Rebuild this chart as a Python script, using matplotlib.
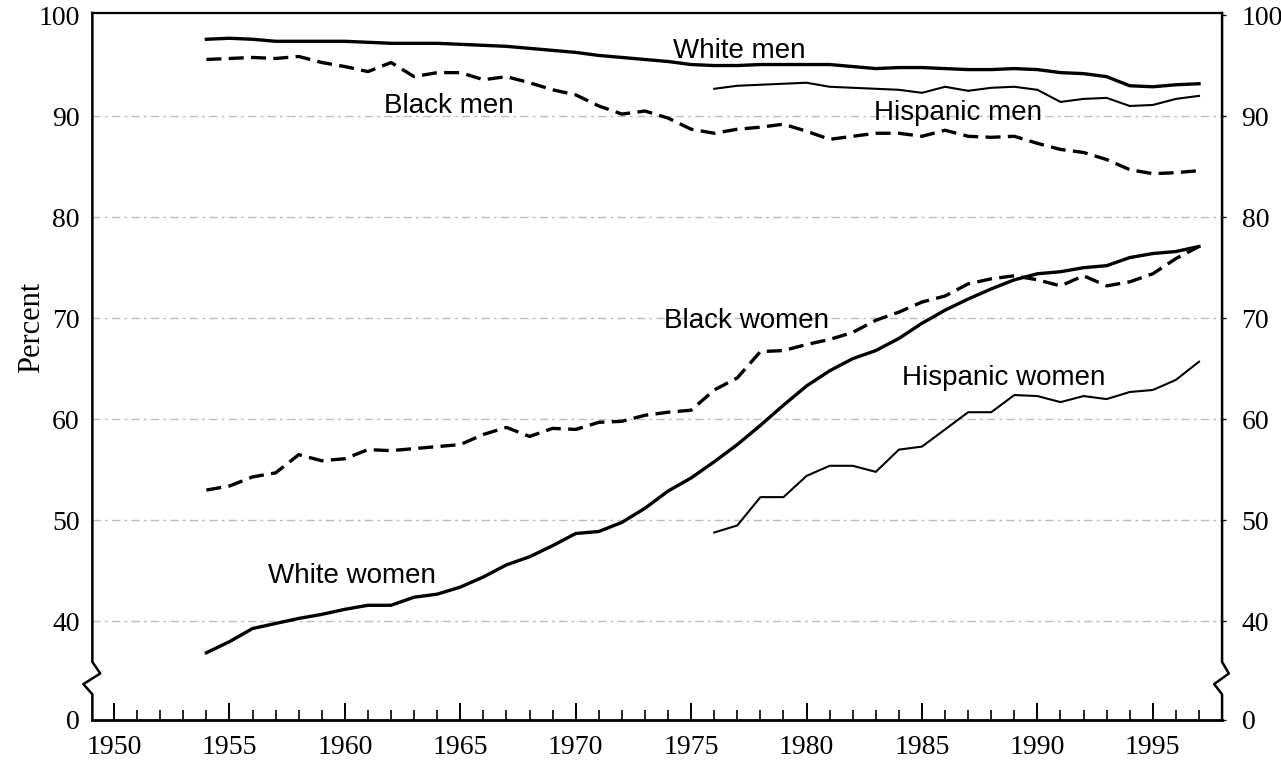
import numpy as np
import matplotlib.pyplot as plt

# labor force participation, percent
years = np.arange(1954, 1998)
hisp_years = np.arange(1976, 1998)

white_men = [97.6, 97.7, 97.6, 97.4, 97.4, 97.4, 97.4, 97.3, 97.2, 97.2, 97.2, 97.1,
             97.0, 96.9, 96.7, 96.5, 96.3, 96.0, 95.8, 95.6, 95.4, 95.1, 95.0, 95.0,
             95.1, 95.1, 95.1, 95.1, 94.9, 94.7, 94.8, 94.8, 94.7, 94.6, 94.6, 94.7,
             94.6, 94.3, 94.2, 93.9, 93.0, 92.9, 93.1, 93.2]
black_men = [95.6, 95.7, 95.8, 95.7, 95.9, 95.3, 94.9, 94.4, 95.3, 93.9, 94.3, 94.3,
             93.6, 93.9, 93.3, 92.6, 92.1, 91.0, 90.2, 90.5, 89.8, 88.7, 88.3, 88.7,
             88.9, 89.2, 88.5, 87.7, 88.0, 88.3, 88.3, 88.0, 88.6, 88.0, 87.9, 88.0,
             87.3, 86.7, 86.4, 85.7, 84.7, 84.3, 84.4, 84.6]
hispanic_men = [92.7, 93.0, 93.1, 93.2, 93.3, 92.9, 92.8, 92.7, 92.6, 92.3, 92.9,
                92.5, 92.8, 92.9, 92.6, 91.4, 91.7, 91.8, 91.0, 91.1, 91.7, 92.0]
white_women = [36.9, 38.0, 39.3, 39.8, 40.3, 40.7, 41.2, 41.6, 41.6, 42.4, 42.7, 43.4,
               44.4, 45.6, 46.4, 47.5, 48.7, 48.9, 49.8, 51.2, 52.9, 54.2, 55.8, 57.5,
               59.4, 61.4, 63.3, 64.8, 66.0, 66.8, 68.0, 69.5, 70.8, 71.9, 72.9, 73.8,
               74.4, 74.6, 75.0, 75.2, 76.0, 76.4, 76.6, 77.1]
black_women = [53.0, 53.4, 54.3, 54.7, 56.5, 55.9, 56.1, 57.0, 56.9, 57.1, 57.3, 57.5,
               58.5, 59.2, 58.3, 59.1, 59.0, 59.7, 59.8, 60.4, 60.7, 60.9, 62.9, 64.1,
               66.7, 66.8, 67.4, 67.9, 68.6, 69.8, 70.6, 71.6, 72.2, 73.4, 73.9, 74.2,
               73.8, 73.2, 74.2, 73.2, 73.6, 74.4, 75.9, 77.1]
hispanic_women = [48.8, 49.5, 52.3, 52.3, 54.4, 55.4, 55.4, 54.8, 57.0, 57.3, 59.0,
                  60.7, 60.7, 62.4, 62.3, 61.7, 62.3, 62.0, 62.7, 62.9, 63.9, 65.7]

grid_vals = [40, 50, 60, 70, 80, 90]
ytick_vals = [30.25, 40, 50, 60, 70, 80, 90, 100]
ytick_labels = ['0', '40', '50', '60', '70', '80', '90', '100']

YMIN, YMAX = 30.25, 100.2
serif = 'Liberation Serif'
sans = 'Liberation Sans'

fig = plt.figure(figsize=(12.81, 7.64), dpi=100)
ax = fig.add_axes([0.0721, 0.0576, 0.8819, 0.9254])
ax.set_xlim(1949.06, 1998.0)
ax.set_ylim(YMIN, YMAX)

# faint broken grid, like the scanned original
for g in grid_vals:
    ax.axhline(g, color='#bdbdbd', lw=1.0, ls=(0, (6, 3, 2, 3)), zorder=1)

thick = 2.4
dash = (0, (4.5, 2.2))
ax.plot(years, white_men, color='black', lw=thick, zorder=3)
ax.plot(years, black_men, color='black', lw=thick, ls=dash, zorder=3)
ax.plot(hisp_years, hispanic_men, color='black', lw=1.5, zorder=3)
ax.plot(years, white_women, color='black', lw=thick, zorder=3)
ax.plot(years, black_women, color='black', lw=thick, ls=dash, zorder=3)
ax.plot(hisp_years, hispanic_women, color='black', lw=1.5, zorder=3)

lab = dict(fontsize=20, family=sans, ha='center', va='center', zorder=4)
ax.text(1977.1, 96.4, 'White men', **lab)
ax.text(1964.5, 91.0, 'Black men', **lab)
ax.text(1986.55, 90.35, 'Hispanic men', **lab)
ax.text(1977.4, 69.75, 'Black women', **lab)
ax.text(1988.55, 64.1, 'Hispanic women', **lab)
ax.text(1960.3, 44.5, 'White women', **lab)

# spines: left/right drawn by hand with the axis break
for s in ['left', 'right']:
    ax.spines[s].set_visible(False)
ax.spines['top'].set_linewidth(1.6)
ax.spines['bottom'].set_linewidth(2.0)
tr = ax.get_yaxis_transform()
ax.plot([0, 0, 0.007, -0.008, 0, 0], [YMAX, 36.0, 34.85, 33.8, 32.8, YMIN],
        color='black', lw=1.8, transform=tr, clip_on=False, zorder=5)
ax.plot([1, 1, 1.006, 0.993, 1, 1], [YMAX, 36.0, 34.85, 33.8, 32.8, YMIN],
        color='black', lw=1.8, transform=tr, clip_on=False, zorder=5)

# x axis
ax.set_xticks(np.arange(1950, 1998), minor=True)
ax.set_xticks(np.arange(1950, 1996, 5))
ax.tick_params(axis='x', which='major', direction='in', length=12, width=1.4,
               pad=11, labelsize=20)
ax.tick_params(axis='x', which='minor', direction='in', length=7, width=1.2)
for t in ax.get_xticklabels():
    t.set_family(serif)

# y axis, labels on both sides
ax.set_yticks(ytick_vals)
ax.set_yticklabels(ytick_labels, family=serif, fontsize=20)
ax.tick_params(axis='y', length=0, pad=9)
ax2 = ax.twinx()
ax2.set_ylim(YMIN, YMAX)
for s in ax2.spines.values():
    s.set_visible(False)
ax2.set_yticks(ytick_vals)
ax2.set_yticklabels(ytick_labels, family=serif, fontsize=20)
ax2.tick_params(axis='y', length=3, width=1, pad=11)

ax.set_ylabel('Percent', family=serif, fontsize=22)
ax.yaxis.set_label_coords(-0.041, 0.555)

fig.savefig('out.png', dpi=100)
